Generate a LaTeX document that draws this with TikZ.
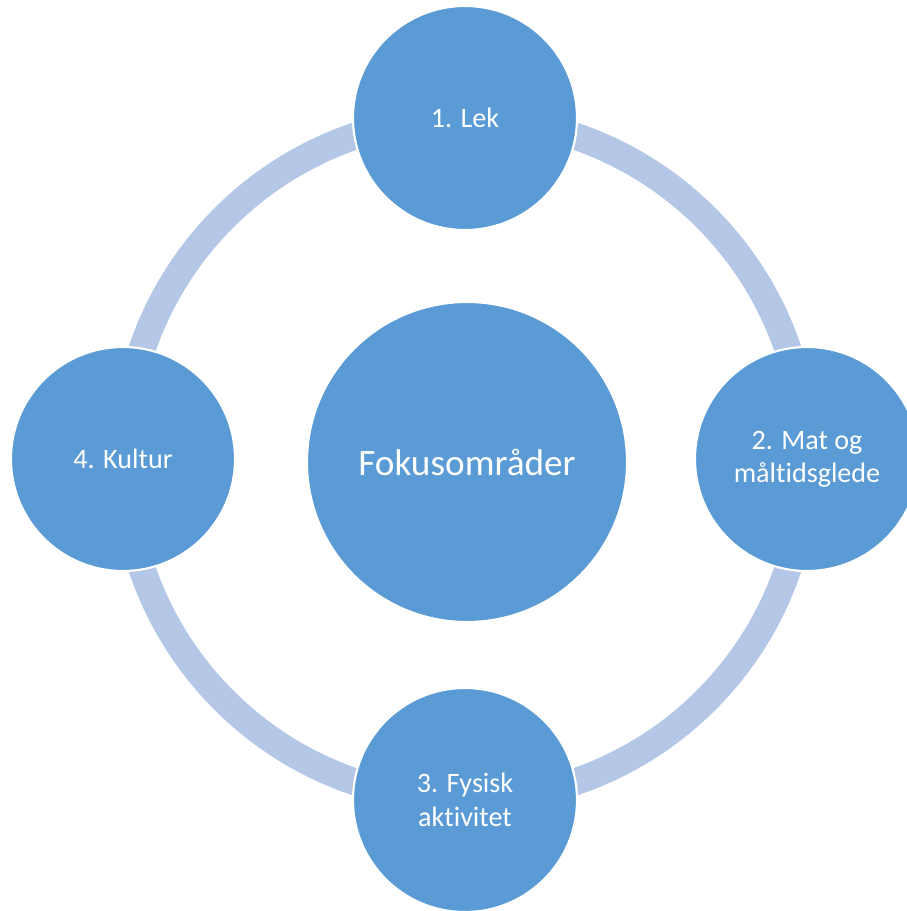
\documentclass[tikz,border=0pt]{standalone}
\usepackage{fontspec}
\setmainfont{Carlito}[Ligatures={NoCommon,NoRequired,NoContextual}]
\usetikzlibrary{positioning}
\definecolor{focusblue}{HTML}{5B9BD5}
\definecolor{ringblue}{HTML}{B4C7E7}

\begin{document}
\begin{tikzpicture}[
	area/.style = {circle, fill = focusblue, draw = white, line width = 1.2pt, text = white, minimum size = 4.48cm, inner sep = 0pt, align = center, font = \fontsize{16}{19}\selectfont},
	]
	\useasboundingbox (-9.30,-9.04) rectangle (8.84,9.18);
	\draw [ringblue, line width = 0.54cm] (0,0) circle (6.82);
	\node [area, minimum size = 6.4cm, font = \fontsize{21.2}{25}\selectfont] (hub) at (0.04,-0.06) {Fokusområder};
	\node [area] (lek) at (90:6.82) {1. Lek};
	\node [area] (mat) at (0:6.84) {2. Mat og\\måltidsglede};
	\node [area] (fysisk) at (270:6.82) {3. Fysisk\\aktivitet};
	\node [area] (kultur) at (180:6.84) {4. Kultur};
\end{tikzpicture}
\end{document}
